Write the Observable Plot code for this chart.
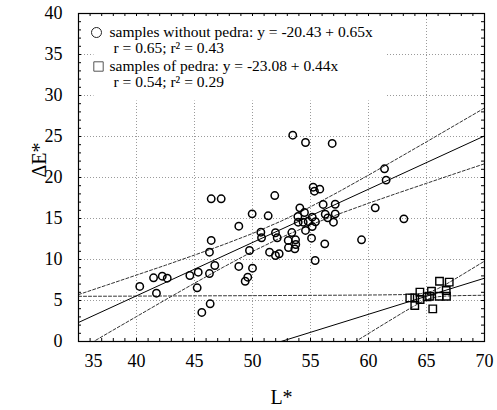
<!DOCTYPE html>
<html>
<head>
<meta charset="utf-8">
<script src="https://cdn.jsdelivr.net/npm/d3@7"></script>
<script src="https://cdn.jsdelivr.net/npm/@observablehq/plot@0.6"></script>
<style>
  html, body { margin: 0; padding: 0; background: white; }
</style>
</head>
<body>
<div id="chart"></div>
<script>
// ---- data ----
const withoutL = [40.28,41.47,41.72,42.22,42.65,44.60,45.23,45.32,45.63,46.29,46.29,46.35,46.44,46.44,46.75,47.30,48.82,48.82,49.37,49.59,49.74,49.97,50.00,50.72,50.78,51.35,51.47,51.92,51.98,51.98,52.13,52.30,53.08,53.10,53.39,53.47,53.65,53.71,53.73,53.91,53.94,54.08,54.37,54.48,54.57,54.57,54.80,55.09,55.15,55.15,55.23,55.34,55.40,55.43,55.80,56.09,56.23,56.27,56.49,56.87,56.98,57.13,57.13,59.40,60.58,61.38,61.52,63.05];
const withoutDE = [6.71,7.77,5.89,7.96,7.72,8.05,6.55,8.45,3.54,8.29,10.89,4.60,12.32,17.40,9.27,17.40,14.06,9.15,7.35,7.84,11.10,15.57,8.94,13.33,12.65,15.33,10.89,17.80,13.26,10.49,12.65,10.70,12.32,11.46,13.29,25.16,11.30,12.40,11.83,15.24,14.55,16.30,14.55,15.73,13.54,24.27,14.63,12.60,15.16,14.02,18.82,18.33,9.88,14.60,18.58,16.71,11.91,15.52,15.08,24.15,14.55,16.74,15.57,12.40,16.30,21.06,19.68,14.96];

const pedraL = [66.12,66.96,64.43,65.43,66.70,63.56,63.99,64.45,65.05,65.26,66.09,66.72,63.99,65.54];
const pedraDE = [7.35,7.24,6.02,6.14,6.22,5.32,5.32,5.12,5.45,5.52,5.52,5.52,4.39,3.98];

// regression lines (from the legend equations) at the ends of the x range
const regL = [35, 70];
const regWithout = [2.32, 25.07];
const regPedra = [-7.68, 7.72];

// dashed confidence bands
const bandWithoutL = [35,37.5,40,42.5,45,47.5,50,52.5,55,57.5,60,62.5,65,67.5,70];
const bandWithoutUp = [5.72,6.91,8.10,9.30,10.54,11.81,13.17,14.70,16.42,18.31,20.29,22.31,24.35,26.41,28.47];
const bandWithoutLo = [-1.08,0.99,3.04,5.09,7.11,9.08,10.97,12.70,14.22,15.58,16.86,18.09,19.29,20.49,21.67];
const bandPedraL = [35,50,58,61,63,64,64.5,65,65.5,66,66.5,67,68,70];
const bandPedraUp = [5.51,5.59,5.65,5.68,5.72,5.78,5.83,5.94,6.15,6.46,6.83,7.24,8.08,9.80];
const bandPedraLo = [-20.87,-7.75,-0.77,1.84,3.56,4.38,4.77,5.10,5.33,5.46,5.53,5.56,5.60,5.64];

// ticks
const xTicks = [40,45,50,55,60,65,70];
const xFirstTick = [35];
const yTicks = [0,5,10,15,20,25,30,35,40];
const xGrid = [40,45,50,55,60,65];
const yGrid = [5,10,15,20,25,30,35];
const xMinor = d3.range(35, 71, 1);
const yMinor = d3.range(0, 41, 1);

const legendLines = [
  "samples without pedra: y = -20.43 + 0.65x",
  "r = 0.65; r\u00B2 = 0.43",
  "samples of pedra: y = -23.08 + 0.44x",
  "r = 0.54; r\u00B2 = 0.29"
];
const xLabel = "L*";
const yLabel = "\u0394E*";

// ---- build ----
const W = 497, H = 410;
const mL = 78, mR = 13, mT = 13, mB = 69;
const pw = W - mL - mR, ph = H - mT - mB;
const font = "'Liberation Serif', 'DejaVu Serif', serif";

const pts = (xs, ys) => xs.map((x, i) => ({x, y: ys[i]}));
const dashed = {x: "x", y: "y", stroke: "#333", strokeWidth: 1, strokeDasharray: "3,2", clip: true};

const chart = Plot.plot({
  width: W, height: H,
  marginLeft: mL, marginRight: mR, marginTop: mT, marginBottom: mB,
  style: {fontFamily: font, fontSize: "18px", background: "white", color: "black", overflow: "visible"},
  x: {domain: [35, 70]},
  y: {domain: [0, 40]},
  marks: [
    Plot.ruleX(xGrid, {stroke: "#9a9a9a", strokeDasharray: "1,2"}),
    Plot.ruleY(yGrid, {stroke: "#9a9a9a", strokeDasharray: "1,2"}),
    Plot.frame({fill: "white", stroke: null, insetLeft: 15, insetRight: 99, insetBottom: 241}),
    Plot.line(pts(bandWithoutL, bandWithoutUp), dashed),
    Plot.line(pts(bandWithoutL, bandWithoutLo), dashed),
    Plot.line(pts(bandPedraL, bandPedraUp), dashed),
    Plot.line(pts(bandPedraL, bandPedraLo), dashed),
    Plot.line(pts(regL, regWithout), {x: "x", y: "y", stroke: "black", strokeWidth: 1, clip: true}),
    Plot.line(pts(regL, regPedra), {x: "x", y: "y", stroke: "black", strokeWidth: 1, clip: true}),
    Plot.dot(pts(withoutL, withoutDE), {x: "x", y: "y", r: 3.7, stroke: "black", strokeWidth: 1.5, fill: "none"}),
    Plot.dot(pts(pedraL, pedraDE), {x: "x", y: "y", symbol: "square", r: 4.2, stroke: "black", strokeWidth: 1.4, fill: "none"}),
    // legend
    Plot.dot([0], {frameAnchor: "top-left", dx: 18, dy: 19, r: 5, stroke: "#222", strokeWidth: 1, fill: "none"}),
    Plot.dot([0], {frameAnchor: "top-left", dx: 20, dy: 53, symbol: "square", r: 5.3, stroke: "#555", strokeWidth: 1, fill: "none"}),
    Plot.text([legendLines[0]], {frameAnchor: "top-left", dx: 31, dy: 19, textAnchor: "start", lineAnchor: "middle", fontSize: 15.5}),
    Plot.text([legendLines[1]], {frameAnchor: "top-left", dx: 35, dy: 35, textAnchor: "start", lineAnchor: "middle", fontSize: 15.5}),
    Plot.text([legendLines[2]], {frameAnchor: "top-left", dx: 31, dy: 53, textAnchor: "start", lineAnchor: "middle", fontSize: 15.5}),
    Plot.text([legendLines[3]], {frameAnchor: "top-left", dx: 35, dy: 69, textAnchor: "start", lineAnchor: "middle", fontSize: 15.5}),
    // frame and inner minor ticks
    Plot.frame({stroke: "black", strokeWidth: 1.2}),
    Plot.tickX(xMinor, {x: d => d, insetTop: ph - 3, stroke: "black"}),
    Plot.tickX(xMinor, {x: d => d, insetBottom: ph - 3, stroke: "black"}),
    Plot.tickY(yMinor, {y: d => d, insetRight: pw - 3, stroke: "black"}),
    Plot.tickY(yMinor, {y: d => d, insetLeft: pw - 3, stroke: "black"}),
    // axes
    Plot.axisX({ticks: xTicks, tickSize: 0, tickPadding: 13, label: null, fontSize: 18}),
    Plot.text(xFirstTick, {x: d => d, frameAnchor: "bottom", dy: 13, dx: 15, lineAnchor: "top", fontSize: 18}),
    Plot.axisY({ticks: yTicks, tickSize: 0, tickPadding: 16, label: null, fontSize: 18}),
    Plot.text([xLabel], {frameAnchor: "bottom", dy: 56, lineAnchor: "middle", fontSize: 20}),
    Plot.text([yLabel], {frameAnchor: "left", dx: -39, rotate: -90, lineAnchor: "middle", fontSize: 20})
  ]
});
document.getElementById("chart").appendChild(chart);
</script>
</body>
</html>
